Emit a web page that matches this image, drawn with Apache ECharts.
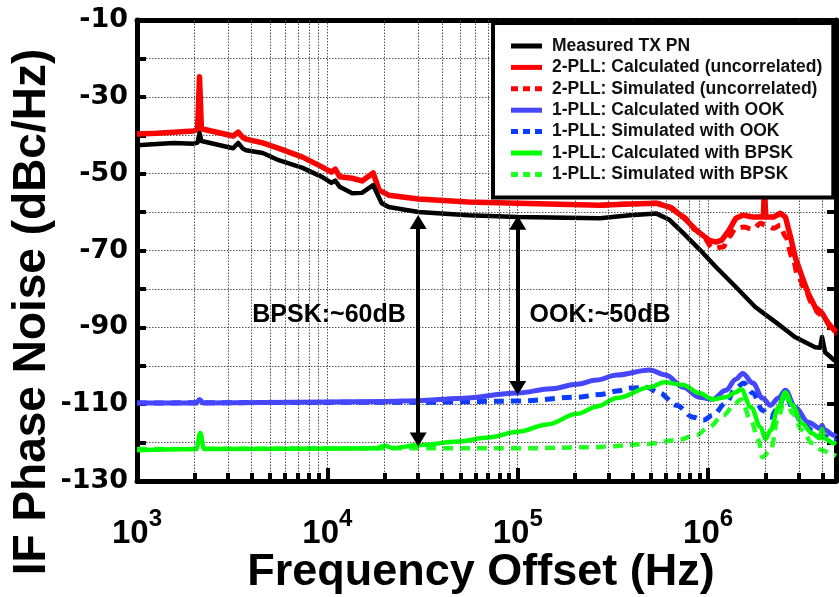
<!DOCTYPE html>
<html><head><meta charset="utf-8">
<script src="https://cdn.jsdelivr.net/npm/echarts@6/dist/echarts.min.js"></script>
<style>html,body{margin:0;padding:0;background:#fff}#c{width:839px;height:597px}</style>
</head><body><div id="c"></div>
<script>
const FONT = '"Liberation Sans", Arial, sans-serif';
const xMin = 1000, xMax = 4.7e6;
const yMin = -130, yMax = -10, yStep = 10;
const minorTicks = [2e3,3e3,4e3,5e3,6e3,7e3,8e3,9e3,2e4,3e4,4e4,5e4,6e4,7e4,8e4,9e4,2e5,3e5,4e5,5e5,6e5,7e5,8e5,9e5,2e6,3e6,4e6];

const seriesNames = [
  'Measured TX PN',
  '2-PLL: Calculated (uncorrelated)',
  '2-PLL: Simulated (uncorrelated)',
  '1-PLL: Calculated with OOK',
  '1-PLL: Simulated with OOK',
  '1-PLL: Calculated with BPSK',
  '1-PLL: Simulated with BPSK'
];
const seriesDashed = [false, false, true, false, true, false, true];

const measuredF = [1000,1270,1560,1980,2080,2130,2180,2230,3200,3400,3600,3740,4580,5550,7410,9420,10500,11000,11600,13500,15200,17400,19300,21000,22900,30100,55000,100000,271000,388000,536000,627000,741000,942000,1100000,1400000,1770000,2300000,2860000,3650000,3880000,3970000,4120000,4590000,4700000];
const measuredV = [-42.6,-42.3,-42.0,-42.2,-41.9,-39.4,-41.5,-41.8,-43.4,-42.0,-43.5,-43.9,-44.6,-46.5,-48.5,-50.9,-52.4,-51.8,-53.4,-55.1,-55.0,-53.0,-57.7,-58.7,-59.0,-60.0,-60.8,-61.3,-61.6,-60.8,-60.4,-62.0,-65.5,-70.7,-74.3,-79.5,-84.7,-88.9,-92.5,-95.2,-95.3,-92.5,-96.5,-98.5,-98.8];

const calc2F = [1000,1270,1560,1980,2080,2130,2180,2230,3200,3400,3600,3740,4580,5550,7410,9420,10500,11000,11600,13500,15200,17400,18700,21000,30100,55000,100000,271000,388000,536000,627000,741000,866000,1010000,1100000,1180000,1290000,1400000,1520000,1720000,1950000,1980000,2010000,2210000,2400000,2550000,2710000,2870000,3120000,3360000,3650000,3970000,4270000,4590000,4700000];
const calc2V = [-39.7,-39.5,-39.2,-38.9,-38.5,-24.8,-38.3,-38.6,-40.2,-39.2,-40.6,-41.0,-42.0,-43.4,-45.7,-48.3,-49.6,-48.8,-50.8,-51.2,-51.9,-49.8,-54.3,-55.6,-56.6,-57.4,-57.7,-58.2,-57.9,-57.7,-58.7,-61.3,-64.7,-67.3,-67.8,-67.3,-64.7,-61.6,-60.8,-61.3,-61.3,-53.8,-61.3,-61.3,-60.3,-61.3,-66.4,-71.7,-76.9,-81.2,-84.7,-86.3,-88.9,-90.7,-91.2];

const sim2F = [271000,536000,627000,741000,866000,942000,1060000,1200000,1290000,1400000,1540000,1720000,1890000,2000000,2210000,2400000,2550000,2770000,2980000,3240000,3520000,3790000,4120000,4590000,4700000];
const sim2V = [-58.2,-57.7,-58.7,-61.3,-64.7,-66.5,-69.4,-69.1,-66.4,-64.2,-63.9,-64.5,-62.9,-63.4,-64.2,-63.4,-66.4,-71.7,-76.9,-80.3,-83.7,-86.3,-88.1,-91.5,-91.9];

const calcOokF = [1000,2050,2130,2230,20000,30100,49000,100000,150000,205000,260000,332000,494000,600000,741000,898000,1060000,1240000,1400000,1520000,1720000,1930000,2130000,2340000,2550000,2870000,3360000,3880000,3970000,4060000,4590000,4700000];
const calcOokV = [-109.7,-109.7,-108.8,-109.7,-109.3,-109.1,-108.5,-107.1,-106.0,-104.8,-103.7,-102.4,-101.1,-102.4,-105.6,-108.2,-108.7,-106.4,-103.5,-102.0,-104.5,-108.4,-110.3,-108.4,-106.4,-110.8,-114.7,-116.3,-115.5,-116.6,-118.1,-118.4];

const simOokF = [1000,30100,100000,205000,271000,332000,397000,475000,556000,681000,836000,942000,1060000,1240000,1400000,1540000,1720000,1930000,2130000,2340000,2550000,2770000,3120000,3520000,3970000,4590000,4700000];
const simOokV = [-109.7,-109.5,-109.2,-108.2,-107.5,-106.6,-105.8,-105.6,-107.1,-110.3,-113.4,-114.2,-112.9,-109.7,-105.8,-104.5,-107.1,-111.6,-113.4,-110.8,-107.1,-110.8,-115.0,-116.8,-118.1,-119.4,-119.6];

const calcBpskF = [1000,2050,2150,2250,18000,20000,22000,30100,49000,70000,100000,143000,205000,262000,332000,494000,590000,741000,898000,1060000,1240000,1400000,1490000,1680000,1890000,2000000,2130000,2340000,2550000,2770000,3120000,3520000,3880000,3970000,4060000,4590000,4700000];
const calcBpskV = [-122.0,-121.7,-117.5,-121.7,-121.5,-120.8,-121.4,-120.7,-119.7,-118.7,-117.2,-115.3,-112.5,-110.6,-108.4,-105.6,-104.3,-105.0,-107.1,-108.7,-108.2,-106.9,-106.1,-110.8,-116.0,-119.1,-116.8,-110.8,-106.9,-110.3,-115.0,-117.6,-118.9,-116.5,-118.9,-120.2,-120.4];

const simBpskF = [1000,30100,100000,262000,295000,475000,681000,866000,1010000,1200000,1400000,1490000,1680000,1840000,1930000,2130000,2340000,2550000,2770000,3120000,3520000,3970000,4590000,4700000];
const simBpskV = [-121.7,-121.5,-121.5,-121.2,-121.0,-120.4,-119.4,-118.1,-116.0,-112.9,-109.7,-108.7,-114.2,-119.4,-123.8,-122.0,-113.4,-107.7,-112.3,-116.8,-120.2,-122.0,-123.3,-123.5];

// annotation arrows: [frequency, top value, bottom value]
const arrowBpsk = [3e4, -62.6, -119.2];
const arrowOok = [1e5, -62.8, -105.8];

const pairs = (f, v) => f.map((x, i) => [x, v[i]]);

const chart = echarts.init(document.getElementById('c'));

const lineSeries = (name, f, v, color, width, dashed, smooth) => ({
  name, type: 'line', data: pairs(f, v), showSymbol: false, symbol: 'none',
  smooth: smooth ? 0.35 : false, smoothMonotone: 'x',
  lineStyle: { color, width, type: dashed ? [10, 7] : 'solid', cap: 'butt', join: 'round' },
  itemStyle: { color }, z: 3, animation: false
});

const gridLineStyle = { color: '#555', width: 1, type: [1.5, 1.5] };
const solidIcon = 'path://M0,0h31v5h-31z';
const dashIcon = 'path://M0,0h7v5h-7zM12,0h7v5h-7zM24,0h7v5h-7z';

const option = {
  animation: false,
  backgroundColor: '#fff',
  grid: { left: 137, top: 20, width: 705, bottom: 116, containLabel: false },
  xAxis: [{
    type: 'log', min: xMin, max: xMax, logBase: 10, position: 'bottom',
    axisLine: { show: true, lineStyle: { color: '#000', width: 5 } },
    axisTick: { show: true, inside: true, length: 13, lineStyle: { color: '#000', width: 4 } },
    splitLine: { show: true, lineStyle: gridLineStyle },
    axisLabel: {
      margin: 26, color: '#000',
      formatter: (v) => {
        const l = Math.log10(v), e = Math.round(l);
        if (Math.abs(l - e) > 1e-6) return '';
        return '{b|10}{s|' + e + '}';
      },
      rich: {
        b: { fontFamily: FONT, fontWeight: 'bold', fontSize: 33, color: '#000' },
        s: { fontFamily: FONT, fontWeight: 'bold', fontSize: 24, color: '#000', padding: [0, 0, 30, 0] }
      }
    }
  }, {
    type: 'log', min: xMin, max: xMax, logBase: 10, position: 'top',
    axisLine: { show: true, onZero: false, lineStyle: { color: '#000', width: 5 } },
    axisTick: { show: false }, axisLabel: { show: false }, splitLine: { show: false }
  }],
  yAxis: [{
    type: 'value', min: yMin, max: yMax, interval: yStep, position: 'left',
    axisLine: { show: true, onZero: false, lineStyle: { color: '#000', width: 5 } },
    axisTick: { show: true, inside: true, length: 9, lineStyle: { color: '#000', width: 4 } },
    splitLine: { show: true, lineStyle: gridLineStyle },
    axisLabel: {
      margin: 9, color: '#000', fontFamily: '"DejaVu Sans", sans-serif', fontWeight: 'bold', fontSize: 27,
      formatter: (v) => ((v - yMin) % 20 === 0 ? String(v) : '')
    }
  }, {
    type: 'value', min: yMin, max: yMax, interval: yStep, position: 'right',
    axisLine: { show: true, onZero: false, lineStyle: { color: '#000', width: 5 } },
    axisTick: { show: true, inside: true, length: 9, lineStyle: { color: '#000', width: 4 } },
    axisLabel: { show: false }, splitLine: { show: false }
  }],
  legend: {
    data: seriesNames.map((n, i) => ({ name: n, icon: seriesDashed[i] ? dashIcon : solidIcon })),
    orient: 'vertical', left: 493, top: 23,
    itemWidth: 31, itemHeight: 5, itemGap: 3.4,
    padding: [14, 11, 14, 18],
    borderColor: '#000', borderWidth: 4, borderRadius: 0, backgroundColor: '#fff',
    textStyle: { fontFamily: FONT, fontWeight: 'bold', fontSize: 17.5, lineHeight: 17, color: '#111', padding: [0, 0, 0, 5] },
    z: 10
  },
  graphic: [
    { type: 'text', x: 329, y: 315, z: 20, style: { text: 'BPSK:~60dB', fill: '#000', font: 'bold 25px ' + FONT, align: 'center', verticalAlign: 'middle' } },
    { type: 'text', x: 600, y: 315, z: 20, style: { text: 'OOK:~50dB', fill: '#000', font: 'bold 25px ' + FONT, align: 'center', verticalAlign: 'middle' } },
    { type: 'text', x: 481, y: 573, z: 20, style: { text: 'Frequency Offset (Hz)', fill: '#000', font: 'bold 45px ' + FONT, align: 'center', verticalAlign: 'middle' } },
    { type: 'text', x: 32, y: 312, rotation: Math.PI / 2, z: 20, style: { text: 'IF Phase Noise (dBc/Hz)', fill: '#000', font: 'bold 46px ' + FONT, align: 'center', verticalAlign: 'middle' } }
  ],
  series: [
    {
      name: 'grid-extra', type: 'line', data: [], z: 1, silent: true,
      markLine: {
        silent: true, symbol: 'none', animation: false,
        label: { show: false },
        lineStyle: gridLineStyle,
        data: minorTicks.map(f => ({ xAxis: f }))
      }
    },
    {
      name: 'ticks-extra', type: 'line', data: [], z: 4, silent: true,
      markLine: {
        silent: true, symbol: 'none', animation: false,
        label: { show: false },
        lineStyle: { color: '#000', width: 4, type: 'solid' },
        data: minorTicks.map(f => [{ coord: [f, yMin] }, { coord: [f, yMin + 2.1] }])
      }
    },
    lineSeries(seriesNames[2], sim2F, sim2V, '#ff0000', 5, true, true),
    lineSeries(seriesNames[1], calc2F, calc2V, '#ff0000', 5.5, false, false),
    lineSeries(seriesNames[0], measuredF, measuredV, '#000000', 4.5, false, false),
    lineSeries(seriesNames[4], simOokF, simOokV, '#0a3cff', 5, true, true),
    lineSeries(seriesNames[3], calcOokF, calcOokV, '#4646ff', 5, false, true),
    lineSeries(seriesNames[6], simBpskF, simBpskV, '#22ff22', 4.5, true, true),
    lineSeries(seriesNames[5], calcBpskF, calcBpskV, '#00ff00', 4.5, false, true),
    {
      name: 'arrows', type: 'line', data: [], z: 5, silent: true,
      markLine: {
        silent: true, animation: false, symbol: ['triangle', 'triangle'], symbolSize: [17, 14],
        label: { show: false },
        lineStyle: { color: '#000', width: 4, type: 'solid' },
        itemStyle: { color: '#000' },
        data: [
          [{ coord: [arrowBpsk[0], arrowBpsk[1]] }, { coord: [arrowBpsk[0], arrowBpsk[2]] }],
          [{ coord: [arrowOok[0], arrowOok[1]] }, { coord: [arrowOok[0], arrowOok[2]] }]
        ]
      }
    }
  ]
};
chart.setOption(option);
</script></body></html>
